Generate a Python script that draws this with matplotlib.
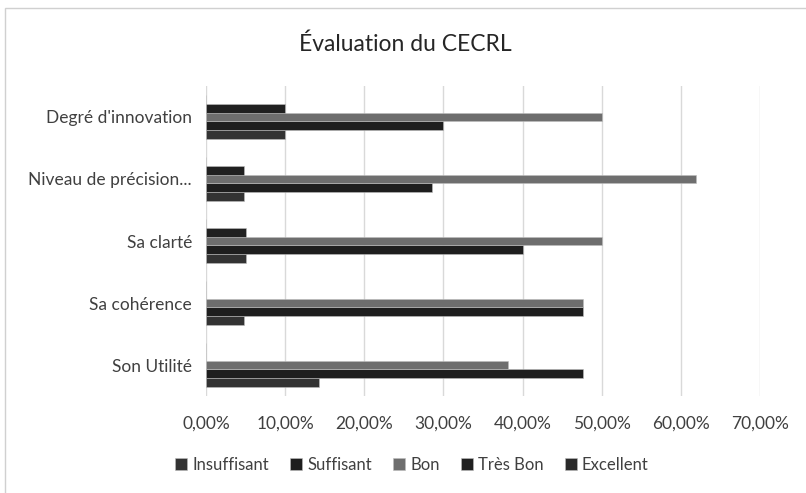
import matplotlib.pyplot as plt
import numpy as np
from matplotlib.ticker import FuncFormatter
from matplotlib.patches import Rectangle

plt.rcParams['font.family'] = ['Lato', 'DejaVu Sans']

categories = ["Son Utilité", "Sa cohérence", "Sa clarté",
              "Niveau de précision...", "Degré d'innovation"]
series = ["Insuffisant", "Suffisant", "Bon", "Très Bon", "Excellent"]
insuffisant = [0.1429, 0.0476, 0.05, 0.0476, 0.10]
suffisant = [0.4762, 0.4762, 0.40, 0.2857, 0.30]
bon = [0.3810, 0.4762, 0.50, 0.6190, 0.50]
tres_bon = [0.0, 0.0, 0.05, 0.0476, 0.10]
excellent = [0.0, 0.0, 0.0, 0.0, 0.0]
values = [insuffisant, suffisant, bon, tres_bon, excellent]
colors = ["#333333", "#1e1e1e", "#6e6e6e", "#202020", "#2a2a2a"]

fig = plt.figure(figsize=(8.06, 4.93), dpi=100)
# chart frame: only left and top edges are visible in the crop
fig.patches.append(Rectangle((5/806, -0.1), 1.2, 1.1 - 8/493, transform=fig.transFigure,
                             fill=False, edgecolor="#d0d0d0", lw=1))
ax = fig.add_axes([206/806, 97/493, 554/806, 310/493])

y = np.arange(len(categories))
h = 0.145
for i, (name, vals) in enumerate(zip(series, values)):
    ax.barh(y + (i - 2) * h, vals, height=h, color=colors[i], label=name,
            edgecolor="#bdbdbd", linewidth=0.4)

ax.set_xlim(0, 0.7)
ax.set_ylim(-0.5, len(categories) - 0.5)
ax.set_xticks(np.arange(0, 0.71, 0.1))
ax.xaxis.set_major_formatter(FuncFormatter(lambda v, p: f"{v*100:.2f}%".replace(".", ",")))
ax.set_yticks(y)
ax.set_yticklabels(categories)
ax.grid(axis="x", color="#d9d9d9", lw=1)
ax.set_axisbelow(True)
for s in ax.spines.values():
    s.set_visible(False)
ax.tick_params(length=0, labelsize=12.5, colors="#404040", pad=10)
ax.tick_params(axis="x", pad=14)

fig.text(405/806, 1 - 44/493, "Évaluation du CECRL", ha="center", va="center",
         fontsize=16.5, color="#262626")
fig.legend(loc="center", bbox_to_anchor=(412/806, 1 - 465/493), ncol=5,
           frameon=False, fontsize=12, handlelength=0.7, handleheight=0.7,
           handletextpad=0.3, columnspacing=1.3, labelcolor="#404040")

fig.savefig("out.png", dpi=100)
